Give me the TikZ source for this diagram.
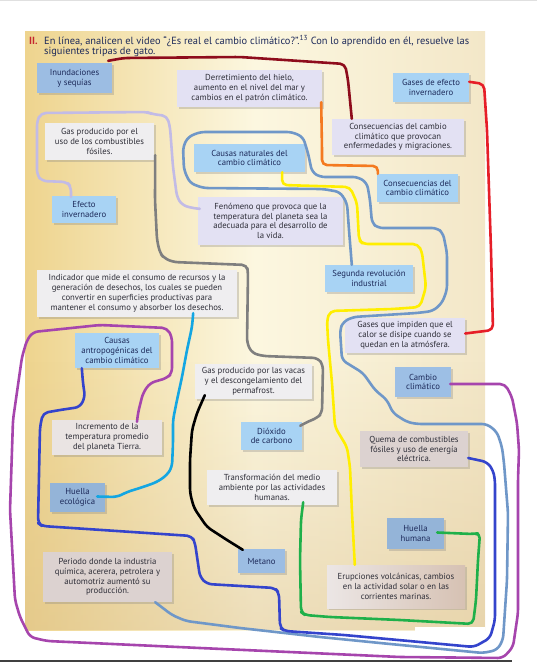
\documentclass[tikz,border=0pt]{standalone}
\usepackage{fontspec}
\setmainfont{PT Sans}
\usetikzlibrary{calc,shadows,fadings}
\definecolor{ink}{HTML}{1D2A5A}
\definecolor{dark}{HTML}{2E2E38}
\definecolor{blueA}{HTML}{A8D3F4}
\definecolor{blueB}{HTML}{9CBDE3}
\definecolor{lav}{HTML}{E3E1F3}
\definecolor{pale}{HTML}{EFEEF0}
\definecolor{warm}{HTML}{DCD2D0}
\definecolor{pgleft}{HTML}{EED48E}
\definecolor{pgmid}{HTML}{FCF7E0}
\definecolor{pgright}{HTML}{F3E7C8}
\definecolor{pgtan}{HTML}{D9BC86}
\definecolor{cMaroon}{HTML}{8E0C1C}
\definecolor{cOrange}{HTML}{F47A20}
\definecolor{cRed}{HTML}{E61E28}
\definecolor{cLav}{HTML}{C2BBE6}
\definecolor{cGray}{HTML}{7F7F7F}
\definecolor{cSteel}{HTML}{6F97C8}
\definecolor{cYellow}{HTML}{FFEE00}
\definecolor{cCyan}{HTML}{14A6E2}
\definecolor{cPurple}{HTML}{A645AD}
\definecolor{cBlue}{HTML}{3444CC}
\definecolor{cGreen}{HTML}{1FB04A}
\definecolor{hdrRed}{HTML}{C4262E}
\newcommand\boxfont{\fontsize{8.7}{9.8}\selectfont}
\newcommand\hdrfont{\fontsize{10.4}{9.4}\selectfont}
\begin{document}
\begin{tikzpicture}[x=1pt,y=-1pt,
  bx/.style={inner sep=0pt, align=center, font=\boxfont,
    drop shadow={opacity=0.3, shadow xshift=1.6pt, shadow yshift=-1.8pt}},
  bluebox/.style={bx, fill=blueA, text=ink},
  mutedbox/.style={bx, fill=blueB, text=ink},
  lavbox/.style={bx, fill=lav, text=dark},
  palebox/.style={bx, fill=pale, text=dark},
  warmbox/.style={bx, fill=warm, text=dark},
  hl/.style={line width=2.6pt, line cap=round, line join=round, rounded corners=5pt}]
\useasboundingbox (0,0) rectangle (537,662);
\fill[white] (0,0) rectangle (537,662);
\fill[black!12] (0,0) rectangle (537,1);
% page
\shade[left color=pgleft, right color=pgright, middle color=pgmid] (25,31) rectangle (485,630);
\fill[pgtan, path fading=north, fill opacity=0.42] (25,360) rectangle (485,630);
\fill[white] (415,627) rectangle (485,632);
\fill[black!75] (0,659.5) rectangle (512,662);
% header
\node[anchor=base west, inner sep=0pt, font=\hdrfont\bfseries, text=hdrRed] (num) at (29,44.5) {II.};
\node[anchor=base west, inner sep=0pt, font=\hdrfont, text=ink] (h1) at (44,44.5) {En línea, analicen el video “¿Es real el cambio climático?”.\textsuperscript{13} Con lo aprendido en él, resuelve las};
\node[anchor=base west, inner sep=0pt, font=\hdrfont, text=ink] (h2) at (44,54) {siguientes tripas de gato.};
% boxes
\node[mutedbox, minimum width=75pt, minimum height=30pt] (inund) at (74.5,78) {Inundaciones\\y sequías};
\node[lavbox, minimum width=145pt, minimum height=37pt] (derret) at (249.5,88.5) {Derretimiento del hielo,\\aumento en el nivel del mar y\\cambios en el patrón climático.};
\node[bluebox, minimum width=76pt, minimum height=29pt] (gasesEf) at (431,87.5) {Gases de efecto\\invernadero};
\node[palebox, minimum width=109pt, minimum height=37pt] (gasComb) at (99.5,141.5) {Gas producido por el\\uso de los combustibles\\fósiles.};
\node[lavbox, minimum width=132pt, minimum height=36pt] (consEnf) at (398,137) {Consecuencias del cambio\\climático que provocan\\enfermedades y migraciones.};
\node[bluebox, minimum width=111pt, minimum height=28pt] (causasNat) at (249.5,158) {Causas naturales del\\cambio climático};
\node[bluebox, minimum width=81pt, minimum height=28pt] (consCC) at (417.5,188) {Consecuencias del\\cambio climático};
\node[bluebox, minimum width=64pt, minimum height=27pt] (efecto) at (84,209.5) {Efecto\\invernadero};
\node[lavbox, minimum width=145pt, minimum height=48pt] (fenomeno) at (270.5,221) {Fenómeno que provoca que la\\temperatura del planeta sea la\\adecuada para el desarrollo de\\la vida.};
\node[bluebox, minimum width=88pt, minimum height=27pt] (segunda) at (369,278.5) {Segunda revolución\\industrial};
\node[palebox, minimum width=200pt, minimum height=47pt] (indicador) at (137,293.5) {Indicador que mide el consumo de recursos y la\\generación de desechos, los cuales se pueden\\convertir en superficies productivas para\\mantener el consumo y absorber los desechos.};
\node[lavbox, minimum width=120pt, minimum height=35pt] (gasesImp) at (405,335.5) {Gases que impiden que el\\calor se disipe cuando se\\quedan en la atmósfera.};
\node[bluebox, minimum width=84pt, minimum height=35pt] (causasAnt) at (117,350.5) {Causas\\antropogénicas del\\cambio climático};
\node[palebox, minimum width=117pt, minimum height=35pt] (gasVacas) at (253.5,381.5) {Gas producido por las vacas\\y el descongelamiento del\\permafrost.};
\node[mutedbox, fill=blueB!90!blueA, minimum width=56pt, minimum height=30pt] (cambio) at (423,382) {Cambio\\climático};
\node[warmbox, fill=warm!60!white, minimum width=110pt, minimum height=35pt] (incremento) at (107,437.5) {Incremento de la\\temperatura promedio\\del planeta Tierra.};
\node[bluebox, minimum width=61pt, minimum height=28pt] (dioxido) at (271.5,436) {Dióxido\\de carbono};
\node[warmbox, minimum width=108pt, minimum height=36pt] (quema) at (414,449) {Quema de combustibles\\fósiles y uso de energía\\eléctrica.};
\node[palebox, minimum width=130pt, minimum height=35pt] (transf) at (272,487.5) {Transformación del medio\\ambiente por las actividades\\humanas.};
\node[mutedbox, fill=blueB!95!black, minimum width=55pt, minimum height=29pt] (huellaEco) at (77.5,497.5) {Huella\\ecológica};
\node[mutedbox, fill=blueB!95!black, minimum width=57pt, minimum height=31pt] (huellaHum) at (415.5,533.5) {Huella\\humana};
\node[mutedbox, minimum width=47pt, minimum height=24pt] (metano) at (261.5,561) {Metano};
\node[warmbox, minimum width=129pt, minimum height=50pt] (periodo) at (107.5,577) {Periodo donde la industria\\química, acerera, petrolera y\\automotriz aumentó su\\producción.};
\node[warmbox, left color=warm!55!white, right color=warm!80!brown, minimum width=138pt, minimum height=43pt] (erupciones) at (396,586.5) {Erupciones volcánicas, cambios\\en la actividad solar o en las\\corrientes marinas.};
% connectors
\draw[hl, cMaroon] ($(inund.north east)+(-4,-2)$) -- (124,58) -- (240,57) -- (345,64) -- (348,80) -- ($(consEnf.north west)+(20,0)$);
\draw[hl, cOrange] ($(derret.south east)+(-1,-5)$) -- (322,150) -- (322,165) -- (378,166) -- ($(consCC.north west)+(1,0)$);
\draw[hl, cRed] ($(gasesEf.north east)+(0,9)$) -- (484,84) -- (487,130) -- (491,250) -- (493,330) -- ($(gasesImp.east)+(0,-2)$);
\draw[hl, cLav] ($(efecto.north)+(-13,1)$) -- (71,187) -- (67,182) -- (42,181) -- (37,175) -- (37,121) -- (41,113) -- (147,112) -- (152,114) -- (167,116) -- (170,127) -- (173,167) -- (177,197) -- (182,205) -- (192,208) -- ($(fenomeno.north west)+(2,12)$);
\draw[hl, cGray] ($(gasComb.south east)+(1,-5)$) -- (155,200) -- (157,240) -- (160,253) -- (164,258) -- (173,262) -- (247,265) -- (248,273) -- (247,343) -- (252,353) -- (263,356) -- (318,358) -- (323,365) -- (322,413) -- (317,418) -- (307,422) -- ($(dioxido.north east)+(-2,4)$);
\draw[hl, cSteel] ($(segunda.north west)+(27,0)$) -- (349,230) -- (347,203) -- (340,192) -- (323,189) -- (203,188) -- (190,183) -- (184,170) -- (183,147) -- (188,137) -- (200,132) -- (292,132) -- (303,137) -- (308,153) -- (312,172) -- (320,177) -- (358,177) -- (367,183) -- (370,200) -- (372,223) -- (378,228) -- (437,228) -- (443,233) -- (447,253) -- (447,290) -- (442,303) -- (433,311) -- (417,313) -- (353,317) -- (343,322) -- (340,330) -- (342,360) -- (350,365) -- (363,373) -- (375,390) -- (387,400) -- (393,413) -- (407,422) -- (417,424) -- (487,424) -- (497,432) -- (502,447) -- (504,463) -- (508,513) -- (507,580) -- (503,640) -- (497,650) -- (483,653) -- (380,643) -- (320,637) -- (240,628) -- (186,621) -- (172,615) -- ($(periodo.south east)+(-17,0)$);
\draw[hl, cYellow] ($(causasNat.south east)+(-23,0)$) -- (282,185) -- (350,187) -- (357,203) -- (359,240) -- (363,244) -- (418,244) -- (422,252) -- (426,287) -- (420,307) -- (393,309) -- (330,311) -- (327,320) -- (328,340) -- (332,383) -- (335,427) -- (347,447) -- (350,467) -- (352,513) -- ($(erupciones.north west)+(28,0)$);
\draw[hl, cCyan] ($(indicador.south east)+(-44,-4)$) -- (192,327) -- (187,350) -- (182,377) -- (177,400) -- (173,420) -- (173,443) -- (172,467) -- (167,475) -- (157,482) -- (143,487) -- (127,492) -- (117,497) -- ($(huellaEco.east)+(-8,-1)$);
\draw[hl, cPurple] ($(cambio.east)+(-1,2)$) -- (505,384) -- (512,397) -- (517,423) -- (519,450) -- (518,480) -- (518,613) -- (513,647) -- (503,658) -- (400,657) -- (200,648) -- (47,641) -- (30,637) -- (20,617) -- (15,600) -- (10,510) -- (13,420) -- (22,357) -- (27,340) -- (33,332) -- (100,325) -- (167,328) -- (172,337) -- (172,373) -- (167,378) -- (150,383) -- (143,393) -- (138,413) -- ($(incremento.north)+(30,2)$);
\draw[hl, cBlue] ($(causasAnt.south west)+(7,0)$) -- (83,383) -- (85,397) -- (80,407) -- (60,410) -- (43,413) -- (40,427) -- (38,523) -- (42,526) -- (192,536) -- (195,543) -- (200,577) -- (207,584) -- (275,588) -- (279,593) -- (280,628) -- (285,631) -- (344,635) -- (474,647) -- (490,638) -- (495,620) -- (495,480) -- (493,470) -- (487,462) -- ($(quema.east)+(0,9)$);
\draw[hl, cGreen] ($(transf.south east)+(-34,-3)$) -- (301,520) -- (300,560) -- (301,612) -- (305,615) -- (330,617) -- (400,620) -- (473,624) -- (476,600) -- (478,560) -- (480,533) -- (473,534) -- ($(huellaHum.east)+(-7,-1)$);
\draw[hl, black] ($(gasVacas.south west)+(10,-4)$) -- (197,413) -- (192,430) -- (190,460) -- (190,493) -- (194,508) -- (207,527) -- (227,540) -- ($(metano.north west)+(5,1)$);
\end{tikzpicture}
\end{document}
